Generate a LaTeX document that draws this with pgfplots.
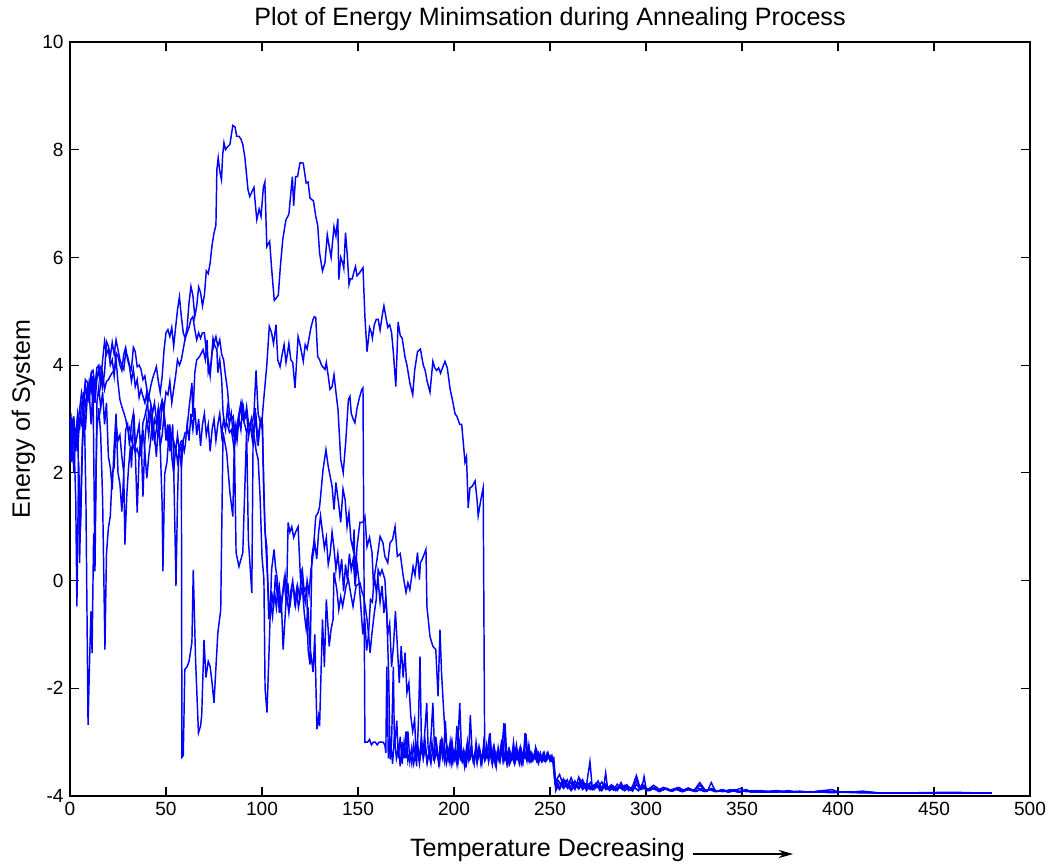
\documentclass[border=0pt]{standalone}
\usepackage{fontspec}
\setmainfont{Liberation Sans}
\usepackage{pgfplots}
\pgfplotsset{compat=1.18}
\usetikzlibrary{arrows.meta}
\definecolor{mblue}{RGB}{0,0,255}
\tikzset{ser/.style={draw=mblue, line width=0.8pt, mark=none, solid}}
\begin{document}
\begin{tikzpicture}
\useasboundingbox (-38.5pt,-36.85pt) rectangle (539.55pt,437.8pt);
\begin{axis}[
  at={(0,0)}, anchor=south west,
  scale only axis, width=528pt, height=414.7pt,
  xmin=0, xmax=500, ymin=-4, ymax=10,
  xtick={0,50,...,500}, ytick={-4,-2,...,10},
  xticklabels={0,50,100,150,200,250,300,350,400,450,500},
  yticklabels={-4,-2,0,2,4,6,8,10},
  tick align=inside, major tick length=4.7pt,
  xtick pos=both, ytick pos=both,
  axis line style={line width=0.9pt, black},
  every tick/.style={line width=0.6pt, black},
  ticklabel style={font=\fontsize{10.5}{12}\selectfont},
  clip=false,
]
% Series 1
\addplot[ser] coordinates {(0,2.6)(1,2.2)(2,2.9)(3,2.7)(4,3.1)(5,2.8)(6,3.3)(7,3.2)(8,3.6)(9,3.4)(10,3.7)(11,3.5)(12,3.8)(13,3.3)(14,3.75)(15,3.9)(16,3.6)(17,3.85)(18,3.55)(19,3.7)(20,3.73)(21,3.8)(22,3.86)(23,3.9)(24,4.1)(25,3.67)(26,3.36)(27,3.23)(28,3.12)(29,3.0)(30,2.8)(31,2.85)(32,2.62)(33,2.49)(34,2.38)(35,2.45)(36,2.3)(37,2.4)(38,2.93)(39,3.05)(40,3.23)(41,3.4)(42,3.6)(43,3.75)(44,3.86)(45,3.97)(46,3.7)(47,3.49)(48,3.79)(49,4.29)(50,4.6)(51,4.66)(52,4.53)(53,4.7)(54,4.35)(55,4.7)(56,5.03)(57,5.27)(58,4.9)(59,4.6)(60,4.5)(61,4.7)(62,5.16)(63,5.46)(64,5.3)(65,4.9)(66,5.1)(67,5.45)(68,5.35)(69,5.1)(70,5.3)(71,5.75)(72,5.7)(73,5.9)(74,6.23)(75,6.45)(76,6.6)(76.5,7.63)(77.2,7.85)(78,7.6)(78.9,7.44)(79.5,7.9)(80.2,8.13)(81,8.0)(82,8.05)(83.3,8.1)(84.8,8.45)(86,8.42)(86.8,8.25)(88,8.25)(89,8.2)(90,8.1)(91.1,7.85)(92.7,7.26)(93.6,7.13)(94.5,7.2)(95.8,7.3)(96.5,7.0)(97.3,6.7)(98.5,6.9)(99.5,6.76)(100.7,7.3)(101.5,7.4)(102.5,6.2)(104,6.3)(105,5.8)(106.4,5.2)(107.5,5.25)(108.5,5.3)(109.5,5.8)(110.8,6.33)(112,6.6)(112.5,6.7)(114,6.8)(115.8,7.5)(116.5,6.96)(117.5,7.5)(118.5,7.5)(119.8,7.76)(121.5,7.75)(122.5,7.5)(123,7.38)(124,7.4)(125,7.1)(126.8,7.05)(128,6.76)(129,6.6)(130,6.08)(131.5,5.75)(132.8,5.9)(134,6.42)(135,6.2)(136,6.0)(137.5,6.57)(138.5,6.4)(139.5,6.72)(140,5.59)(141,6.0)(142,5.9)(142.6,5.8)(143.5,6.46)(144.5,6.0)(145.3,5.5)(146,5.6)(147,5.6)(148,5.75)(148.7,5.83)(149.5,5.66)(150.5,5.7)(151.5,5.75)(152.6,5.81)(153.6,4.9)(154.7,4.25)(155.5,4.5)(156,4.7)(157,4.6)(157.5,4.5)(158.5,4.75)(159.5,4.85)(160.5,4.85)(161.5,4.65)(162.5,4.9)(163.5,5.1)(164.5,4.9)(165.5,4.7)(166.5,4.75)(167.5,4.6)(168.5,4.2)(169.7,3.6)(170.9,4.8)(172,4.55)(173,4.5)(174.5,4.15)(175.5,4.0)(177,3.67)(178.5,3.45)(179.5,3.9)(181,4.25)(182.5,4.3)(184,4.0)(185,3.9)(186,3.7)(187.5,3.5)(189,4.07)(190,3.95)(191,3.9)(192,3.95)(193,3.85)(194,3.95)(195.3,4.07)(196.5,3.95)(198,3.55)(199.5,3.3)(200.5,3.1)(201.5,3.05)(202.5,2.95)(203,2.9)(204,2.9)(205,2.5)(205.7,2.2)(206.5,2.3)(207.4,1.35)(208.3,1.72)(209.5,1.75)(211,1.85)(212,1.5)(212.6,1.2)(213.5,1.4)(214.5,1.6)(215.2,1.72)(216,-3.3)(217,-3.1)(218,-3.35)(219,-3.0)(220,-3.4)(221,-3.2)(222,-3.45)(223,-3.1)(224,-3.3)(225,-2.95)(226,-3.35)(227,-3.2)(228,-3.4)(229,-3.15)(230,-3.3)(231,-3.0)(232,-3.35)(233,-3.25)(234,-3.4)(235,-3.15)(236,-3.3)(237,-3.2)(238,-3.35)(239,-3.05)(240,-3.3)(241,-3.35)(242,-3.2)(243,-3.3)(244,-3.4)(245,-3.25)(246,-3.3)(247,-3.2)(248,-3.35)(249,-3.3)(250,-3.25)(251,-3.35)(252,-3.4)(253,-3.85)(254,-3.7)(256,-3.8)(258,-3.72)(260,-3.86)(262,-3.75)(264,-3.82)(266,-3.7)(268,-3.84)(270,-3.78)(272,-3.88)(274,-3.76)(276,-3.85)(278,-3.8)(280,-3.87)(282,-3.79)(284,-3.86)(286,-3.82)(288,-3.89)(290,-3.8)(292,-3.88)(294,-3.84)(296,-3.9)(298,-3.78)(300,-3.88)(303,-3.85)(306,-3.9)(309,-3.84)(312,-3.9)(315,-3.86)(318,-3.91)(321,-3.87)(324,-3.9)(327,-3.85)(330,-3.91)(333,-3.88)(336,-3.92)(339,-3.89)(342,-3.92)(345,-3.9)(348,-3.93)(351,-3.9)(354,-3.92)(357,-3.9)(360,-3.93)(366,-3.91)(372,-3.93)(378,-3.92)(384,-3.93)(390,-3.92)(396,-3.94)(402,-3.93)(410,-3.94)(420,-3.94)(440,-3.94)(460,-3.94)(480,-3.94)};
% Series 2
\addplot[ser] coordinates {(0,3.0)(1,2.6)(2,3.05)(3,2.4)(4,2.9)(5,3.17)(6,3.49)(7,3.3)(8,3.73)(9,3.68)(10,3.6)(11,3.82)(12,3.36)(13,3.5)(14,3.79)(15,3.92)(16,3.97)(17,3.6)(18,3.86)(19,4.44)(20,4.35)(21,4.16)(22,4.42)(23,4.2)(24,4.47)(25,4.29)(26,4.1)(27,4.0)(28,3.92)(29,4.23)(30,4.16)(31,4.0)(32,3.92)(33,4.33)(34,4.25)(35,3.97)(36,4.0)(37,3.92)(38,3.73)(39,3.8)(40,3.55)(41,3.42)(42,3.3)(43,3.1)(44,3.3)(45,3.0)(46,2.9)(47,3.2)(48,3.35)(49,3.2)(50,3.5)(51,3.45)(52,3.7)(53,3.3)(54,3.55)(55,3.8)(56,4.1)(57,4.0)(58,4.1)(59,4.3)(60,4.5)(61,4.6)(62,4.7)(63,4.85)(64,4.9)(65,4.66)(66,4.47)(67,4.6)(68,4.5)(69,4.6)(70,4.6)(71,4.25)(72,4.1)(73,3.8)(74,4.23)(75,4.4)(76,4.53)(77,4.35)(78,4.47)(79,4.2)(80,4.1)(81,3.8)(82,3.55)(83,3.12)(84,3.0)(85,3.05)(86,2.56)(87,2.9)(88,3.1)(89,3.3)(90,3.0)(91,2.9)(92,2.75)(93,2.9)(94,2.93)(95,2.95)(95.8,3.1)(96.9,3.9)(98,3.1)(99,2.95)(99.8,2.86)(100.5,3.2)(101.5,3.6)(102.5,4.0)(103.8,4.72)(105,4.6)(106,4.4)(107.3,4.75)(108.2,4.1)(109.4,3.97)(110.5,4.2)(111.5,4.38)(112.5,4.05)(113.2,4.2)(114,4.4)(115,4.1)(116,4.05)(117.2,3.58)(118.8,4.53)(120,4.35)(121.5,4.07)(122.5,4.38)(123.5,4.3)(124.5,4.5)(125.5,4.7)(126.6,4.85)(127.3,4.9)(128,4.88)(129,4.16)(130,4.1)(131,4.0)(132.8,3.92)(133.5,4.05)(134.5,3.8)(135.4,3.55)(136.5,3.6)(137.5,3.82)(138.5,3.5)(139.6,3.17)(141,2.25)(142.3,2.0)(143.7,2.62)(145,3.36)(145.8,3.42)(146.5,3.1)(147.5,3.0)(148.4,2.93)(149.5,3.2)(150.5,3.36)(151.2,3.45)(152,3.55)(152.6,3.58)(153.6,-3.0)(155,-3.0)(156,-2.95)(157,-3.05)(158,-3.0)(159,-3.0)(160,-3.05)(161,-3.0)(162,-3.0)(163,-3.0)(164,-3.05)(164.5,-3.2)(165,-1.6)(165.8,-3.3)(167,-3.0)(168,-3.4)(169,-2.9)(170,-3.3)(171,-3.1)(172,-3.45)(173,-3.0)(174,-3.3)(175,-2.8)(176,-3.35)(177,-3.2)(178,-3.4)(179,-3.05)(180,-3.3)(181,-3.15)(182,-3.4)(183,-3.1)(184,-3.3)(185,-3.0)(186,-3.35)(187,-3.2)(188,-3.4)(189,-3.1)(190,-3.3)(191,-3.2)(192,-3.35)(193,-2.95)(194,-3.3)(195,-3.15)(196,-3.4)(197,-3.2)(198,-3.3)(199,-3.0)(200,-3.35)(201,-3.2)(202,-3.4)(203,-3.1)(204,-3.3)(205,-3.25)(206,-3.4)(207,-3.0)(208,-3.3)(209,-3.15)(210,-3.35)(211,-3.2)(212,-3.4)(213,-3.1)(214,-3.3)(215,-3.2)(216,-3.35)(217,-3.25)(218,-3.3)(219,-3.2)(220,-3.4)(221,-3.15)(222,-3.35)(223,-3.25)(224,-3.3)(225,-3.1)(226,-2.65)(227,-3.3)(228,-3.2)(229,-3.4)(230,-3.25)(231,-3.35)(232,-3.2)(233,-3.3)(234,-3.15)(235,-3.4)(236,-3.2)(237,-3.3)(238,-3.25)(239,-3.35)(240,-3.2)(241,-3.3)(242,-3.25)(243,-3.35)(244,-3.2)(245,-3.3)(246,-3.25)(247,-3.35)(248,-3.3)(249,-3.25)(250,-3.3)(251,-3.35)(252,-3.3)(253,-3.8)(255,-3.88)(257,-3.7)(259,-3.85)(261,-3.66)(263,-3.84)(265,-3.76)(267,-3.88)(269,-3.8)(270.8,-3.36)(272,-3.85)(274,-3.78)(276,-3.9)(278,-3.82)(279,-3.57)(280,-3.86)(282,-3.8)(284,-3.9)(286,-3.83)(288,-3.87)(290,-3.79)(292,-3.89)(294,-3.84)(296,-3.9)(298,-3.82)(299,-3.64)(300,-3.85)(302,-3.9)(305,-3.83)(308,-3.9)(311,-3.86)(314,-3.91)(317,-3.84)(320,-3.9)(323,-3.87)(326,-3.92)(329,-3.86)(332,-3.91)(334,-3.75)(336,-3.9)(340,-3.92)(344,-3.88)(348,-3.92)(352,-3.89)(356,-3.93)(360,-3.9)(365,-3.93)(370,-3.91)(375,-3.93)(380,-3.92)(385,-3.93)(390,-3.91)(397,-3.88)(400,-3.93)(405,-3.92)(411,-3.93)(420,-3.94)(440,-3.94)(460,-3.93)(470,-3.94)(480,-3.94)};
% Series 3
\addplot[ser] coordinates {(0,2.3)(1,2.9)(2,2.0)(3,2.8)(4,2.4)(5,3.0)(6,2.9)(7,3.5)(8,3.2)(9,3.6)(10,3.3)(11,3.85)(12,3.9)(13,3.6)(14,3.95)(15,4.0)(16,3.7)(17,4.1)(18,4.44)(19,4.2)(20,4.3)(21,4.0)(22,4.1)(23,3.8)(24,4.23)(25,4.16)(26,4.0)(27,3.9)(28,4.2)(29,4.33)(30,4.1)(31,3.97)(32,3.7)(33,3.92)(34,3.6)(35,3.73)(36,3.4)(37,3.55)(38,3.42)(39,3.3)(40,3.5)(41,3.0)(42,3.2)(43,2.6)(44,3.0)(45,2.9)(46,3.2)(47,2.8)(48,3.3)(49,3.1)(50,2.6)(51,2.9)(52,2.4)(53,2.7)(54,2.6)(55,2.4)(56,2.7)(57,2.4)(58,2.5)(58.3,-3.28)(59,-3.25)(59.8,-1.65)(61,-1.6)(62,-1.5)(63.5,-1.15)(64.2,0.2)(65.4,-1.47)(66.9,-2.83)(68,-2.7)(68.6,-2.5)(69.8,-1.1)(70.8,-1.8)(72,-1.5)(73,-1.6)(74,-1.9)(75,-2.27)(77,-0.97)(78.5,-0.54)(79.7,2.75)(81.6,2.38)(83.3,1.63)(84.8,1.19)(85.6,2.62)(86.5,0.52)(88,0.26)(90,0.52)(92,2.8)(92.9,0.76)(94.7,-0.23)(95.4,2.8)(97,2.4)(98,2.25)(99,1.56)(100,0.45)(101,0.02)(101.6,-2.0)(102.6,-2.45)(103.5,-1.5)(105,0.2)(106.3,0.58)(107,0.26)(108,0.02)(109,-0.6)(110,-0.3)(111,-1.28)(112.9,-0.17)(113.6,1.08)(114.5,0.9)(115.5,1.0)(116.5,0.8)(117.5,0.9)(118.8,1.0)(120,0.07)(121,0.2)(122,-0.2)(123.3,-0.1)(124,-1.28)(125,-1.56)(126,0.45)(127,0.7)(128,1.19)(129.2,1.26)(130,1.37)(131,1.75)(131.8,2.06)(133.3,2.43)(134.5,2.12)(136.5,1.75)(137.5,1.32)(138.5,1.82)(140,1.4)(141,1.08)(142.2,1.7)(143.3,1.5)(144.3,1.0)(145.3,1.26)(146.3,0.76)(147.4,0.58)(148,0.95)(148.4,-0.04)(149.5,0.63)(151,1.08)(152.6,1.08)(153.6,1.19)(154.7,0.63)(156,0.8)(157.3,0.52)(158,-0.04)(159.9,0.39)(161.5,0.82)(163,0.7)(164,0.45)(165.5,0.33)(166.7,0.7)(168,0.76)(169.3,1.0)(170.5,0.45)(172,0.5)(173.6,0.07)(175,-0.22)(176,-0.04)(177,-0.17)(178.7,0.26)(179.7,0.1)(181,0.52)(182,0.02)(182.5,0.33)(183.5,0.4)(185.4,0.58)(185.9,-0.48)(187.5,-1.04)(189,-1.22)(190.5,-1.28)(191.7,-2.15)(192.7,-0.91)(193.5,-1.7)(194.5,-2.34)(195.5,-2.95)(196.5,-3.1)(197.5,-3.35)(198.5,-3.0)(199.5,-3.3)(200.5,-3.15)(201.5,-3.4)(202.5,-2.9)(203.5,-3.3)(204.5,-3.2)(205.5,-3.45)(206.5,-3.1)(207.5,-3.3)(208.5,-2.5)(209.5,-3.25)(210.5,-3.35)(211.5,-3.1)(212.5,-3.3)(213.5,-3.2)(214.5,-3.4)(215.5,-3.0)(216.5,-3.3)(217.5,-3.2)(218.5,-2.85)(219.5,-3.3)(220.5,-3.15)(221.5,-3.4)(222.5,-3.2)(223.5,-3.3)(224.5,-3.05)(225.5,-3.35)(226.5,-3.2)(227.5,-3.4)(228.5,-3.15)(229.5,-3.3)(230.5,-3.25)(231.5,-3.4)(232.5,-3.2)(233.5,-3.3)(234.5,-3.1)(235.5,-3.35)(236.5,-3.25)(237.5,-2.85)(238.5,-3.3)(239.5,-3.2)(240.5,-3.35)(241.5,-3.25)(242.5,-3.3)(243.5,-3.2)(244.5,-3.35)(245.5,-3.3)(246.5,-3.25)(247.5,-3.35)(248.5,-3.2)(249.5,-3.3)(250.5,-3.35)(251.5,-3.3)(252.5,-3.75)(255,-3.6)(257,-3.82)(259,-3.7)(261,-3.88)(263,-3.72)(265,-3.85)(267,-3.7)(269,-3.86)(271,-3.75)(273,-3.88)(275,-3.8)(277,-3.9)(279,-3.78)(281,-3.88)(283,-3.82)(285,-3.9)(287,-3.8)(289,-3.88)(291,-3.85)(293,-3.91)(295,-3.78)(297,-3.88)(299,-3.86)(301,-3.9)(304,-3.84)(307,-3.91)(310,-3.87)(313,-3.9)(316,-3.85)(319,-3.92)(322,-3.88)(325,-3.91)(328,-3.8)(331,-3.9)(334,-3.88)(337,-3.92)(340,-3.89)(343,-3.93)(346,-3.9)(349,-3.86)(352,-3.92)(355,-3.9)(358,-3.93)(362,-3.91)(368,-3.93)(374,-3.9)(380,-3.93)(386,-3.92)(392,-3.93)(398,-3.91)(404,-3.93)(412,-3.92)(420,-3.94)(450,-3.94)(480,-3.94)};
% Series 4
\addplot[ser] coordinates {(0,2.9)(1,2.5)(2,2.7)(3,1.5)(3.6,-0.48)(4.5,2.2)(5.5,1.0)(6.5,2.5)(7.5,3.1)(8.3,1.5)(9.4,-2.68)(10.2,-1.5)(10.9,-0.57)(11.5,-1.34)(12.3,0.85)(13,0.9)(14,2.8)(15,3.2)(16,2.7)(17,1.5)(18.2,-1.28)(19,0.5)(20,0.98)(21,1.2)(22,2.0)(23,2.1)(24,2.9)(25,2.6)(26,2.7)(27,2.3)(28,2.0)(29,2.8)(30,2.9)(31,2.5)(32,2.9)(33,3.1)(34,2.4)(35,1.26)(36,2.3)(37,2.7)(38,1.56)(39,2.6)(40,3.0)(41,2.7)(42,3.1)(43,2.9)(44,2.6)(45,2.8)(46,3.2)(47,2.5)(48,1.4)(48.4,0.17)(49.3,1.97)(50.5,2.2)(51.5,2.7)(52.5,2.5)(53.5,2.9)(54.3,1.6)(55.2,-0.1)(56,1.5)(56.7,2.43)(57.7,2.58)(58.5,2.6)(59.5,2.4)(60,2.5)(61,2.9)(62,2.6)(63,3.1)(64,2.8)(65,3.2)(66,2.7)(67,3.0)(68,2.5)(69,2.9)(70,3.1)(71,2.7)(72,2.9)(73,2.4)(74,2.8)(75,3.0)(76,2.6)(77,2.9)(78,3.1)(79,2.7)(80,3.0)(81,2.8)(82,3.2)(83,2.9)(84,3.1)(85,2.7)(86,2.9)(87,2.6)(88,3.0)(89,2.8)(90,3.3)(91,3.0)(92,3.1)(93,2.67)(94,2.9)(95,2.6)(96,2.8)(97,3.0)(98,2.5)(99,2.9)(100,3.0)(100.8,2.0)(101.5,1.0)(102.5,0.3)(104,-0.67)(105,-0.2)(106,-0.5)(107,0.1)(108,-0.3)(109,-0.1)(110,-0.5)(111,-0.2)(112,0.1)(113,-0.3)(114,-0.6)(115,-0.2)(116,0.0)(117,-0.4)(118,-0.17)(119,-0.5)(120,-0.3)(121,-0.1)(122,-0.6)(123,-0.9)(124,-0.5)(125,-1.22)(126.6,-1.7)(127.5,-1.0)(128.6,-2.76)(129.5,-2.52)(130,-2.7)(131.5,-0.72)(132.5,-1.6)(133.5,-0.35)(135,-1.22)(136,-0.9)(137,-0.72)(137.5,0.15)(139,-0.17)(140,-0.54)(141,-0.3)(142,-0.48)(143.8,-0.1)(145,0.02)(146,-0.2)(147.4,-0.48)(149,-0.1)(151,-0.04)(152,-0.2)(153,-0.3)(154.7,-0.72)(155.5,-1.0)(156.3,-1.34)(157.3,-0.97)(158.5,-0.6)(159.5,-0.35)(160.5,0.2)(161.5,0.1)(162.5,0.2)(164,0.02)(165,-0.6)(166,-1.78)(166.7,-3.32)(167.5,-3.0)(168.4,-1.6)(169,-3.1)(170.2,-2.6)(171,-3.3)(172,-2.9)(173,-3.4)(174,-3.0)(175,-3.3)(176,-2.8)(177,-3.35)(178,-3.1)(179,-3.4)(180,-3.2)(181,-3.0)(182,-3.35)(183,-2.9)(184,-3.3)(185,-3.1)(186,-3.4)(187,-3.2)(188,-2.9)(189,-2.27)(190,-3.3)(191,-3.1)(192,-3.4)(193,-3.2)(194,-3.0)(195,-3.35)(196,-3.1)(197,-3.3)(198,-3.0)(199,-3.4)(200,-3.2)(201,-3.3)(202,-3.05)(203,-2.27)(204,-3.3)(205,-3.15)(206,-3.4)(207,-3.2)(208,-3.3)(209,-3.05)(210,-3.35)(211,-3.2)(212,-3.3)(213,-3.1)(214,-3.4)(215,-3.2)(216,-3.3)(217,-3.05)(218,-3.35)(219,-3.2)(220,-3.4)(221,-3.1)(222,-3.3)(223,-3.2)(224,-3.35)(225,-3.1)(226,-3.3)(227,-3.2)(228,-3.4)(229,-3.2)(230,-3.3)(231,-3.1)(232,-3.35)(233,-3.2)(234,-3.3)(235,-3.15)(236,-3.35)(237,-2.83)(238,-3.3)(239,-3.2)(240,-3.35)(241,-3.25)(242,-3.3)(243,-3.15)(244,-3.3)(245,-3.2)(246,-3.35)(247,-3.25)(248,-3.3)(249,-3.2)(250,-3.35)(251,-3.25)(252,-3.4)(253,-3.9)(255,-3.75)(257,-3.86)(259,-3.78)(261,-3.9)(263,-3.8)(265,-3.87)(267,-3.74)(269,-3.9)(271,-3.82)(273,-3.87)(275,-3.72)(277,-3.86)(279,-3.8)(281,-3.9)(283,-3.84)(285,-3.88)(287,-3.75)(289,-3.9)(291,-3.83)(293,-3.88)(295,-3.7)(297,-3.87)(299,-3.8)(301,-3.9)(304,-3.86)(307,-3.92)(310,-3.85)(313,-3.9)(316,-3.88)(319,-3.92)(322,-3.86)(325,-3.91)(328,-3.89)(331,-3.92)(334,-3.86)(337,-3.91)(340,-3.88)(343,-3.92)(346,-3.9)(349,-3.93)(352,-3.88)(355,-3.92)(358,-3.9)(362,-3.93)(368,-3.91)(374,-3.93)(380,-3.91)(386,-3.93)(392,-3.9)(398,-3.93)(406,-3.92)(414,-3.93)(420,-3.94)(450,-3.94)(480,-3.94)};
% Series 5
\addplot[ser] coordinates {(0,2.2)(1,3.0)(2,2.8)(3,2.6)(4,3.05)(5,0.33)(6,2.0)(7,3.3)(8,2.8)(9,3.4)(10,3.5)(11,2.9)(12,3.6)(13,0.17)(14,3.3)(15,3.6)(16,3.2)(17,3.5)(18,2.9)(19,3.3)(20,2.3)(21,2.1)(22,1.69)(23,2.5)(24,3.1)(25,2.0)(26,1.8)(27,1.28)(28,2.0)(28.6,0.67)(29.6,1.6)(30.5,2.1)(31.5,2.5)(32,2.1)(33.3,3.1)(34,2.5)(35,2.7)(36,2.9)(37,2.3)(38,2.8)(39,2.4)(40,1.9)(41,2.3)(42,2.6)(43,3.0)(44,2.7)(45,2.3)(46,2.9)(47,2.5)(48,2.7)(49,3.1)(50,2.8)(51,2.6)(52,2.9)(53,2.3)(54,2.0)(55,2.5)(56,2.2)(57,2.4)(58,2.1)(59,2.6)(60,2.75)(60.8,2.75)(62,3.2)(63.5,3.67)(64,3.04)(65,3.86)(66,4.1)(67.5,4.16)(69.3,4.29)(70.5,4.1)(71.4,4.47)(72,3.86)(73.5,4.05)(74.5,4.5)(75.5,4.35)(76.5,4.29)(77,3.86)(78,4.1)(79,3.73)(79.7,3.12)(80.7,2.86)(82,2.9)(83,2.75)(84,2.8)(84.8,2.62)(85.5,2.43)(86.5,2.7)(87.5,2.93)(88.5,3.1)(89.6,3.3)(90.5,3.0)(91.5,3.1)(92,3.23)(93,2.9)(93.75,2.86)(94.5,3.0)(95.5,2.7)(96.5,3.2)(97.5,2.6)(98.5,2.8)(99.5,3.0)(100.3,2.9)(100.8,1.75)(101.6,0.9)(102.5,0.63)(103.5,-0.72)(104.5,-0.4)(105.5,-0.67)(106.5,-0.2)(107.5,-0.5)(108.5,-0.1)(109.5,-0.6)(110.5,-0.3)(111.5,0.0)(112.5,-0.35)(113.5,-0.05)(114.5,-0.5)(115.5,-0.2)(116.5,-0.15)(117.5,-0.45)(118.5,-0.1)(119.5,-0.3)(120.5,0.1)(121.5,-0.2)(122.5,-0.4)(123.5,0.0)(124.5,-0.25)(125.5,0.2)(126.5,0.45)(127.5,0.7)(128.5,0.4)(129.5,0.9)(130.5,1.2)(131.5,0.9)(132.5,0.6)(133.5,0.8)(134.5,0.3)(135.5,0.5)(136.5,0.9)(137.5,0.6)(138.5,0.2)(139.5,0.5)(140.5,0.1)(141.5,0.4)(142.5,-0.2)(143.5,0.3)(144.5,0.0)(145.5,0.5)(146.5,0.2)(147.5,0.4)(148.5,-0.1)(149.5,0.3)(150.5,0.0)(151.5,-0.5)(152.5,-1.0)(153.5,-0.7)(154.5,-1.3)(155.5,-1.0)(156.5,-0.35)(157.5,-0.4)(158.5,0.1)(159.5,-0.2)(160.5,0.0)(161.5,-0.4)(162.5,-0.1)(163.5,-0.6)(164.5,-0.3)(165.5,-1.0)(166.5,-0.8)(167.5,-1.6)(168.5,-1.2)(169.5,-0.57)(170.5,-1.22)(171.5,-1.9)(172.5,-1.22)(173.5,-1.8)(174.5,-1.34)(175.5,-2.08)(176.5,-1.9)(177.5,-2.52)(178.5,-2.8)(179.5,-2.58)(180.5,-3.45)(181.5,-2.6)(182.3,-1.41)(183,-2.95)(184,-3.2)(185,-2.7)(185.8,-2.27)(186.5,-3.1)(187.5,-3.3)(188.5,-3.0)(189.5,-3.35)(190.5,-2.9)(191.5,-3.2)(192.5,-3.4)(193.5,-3.0)(194.5,-3.3)(195.5,-2.6)(196.5,-3.3)(197.5,-3.1)(198.5,-3.4)(199.5,-3.15)(200.5,-3.3)(201.5,-2.7)(202.5,-3.3)(203.5,-3.1)(204.5,-3.35)(205.5,-3.2)(206.5,-3.4)(207.5,-3.1)(208.5,-3.3)(209.5,-3.2)(210.5,-3.4)(211.5,-3.0)(212.5,-3.3)(213.5,-3.15)(214.5,-3.35)(215.5,-3.1)(216.5,-3.3)(217.5,-3.2)(218.8,-2.83)(219.5,-3.3)(220.5,-3.1)(221.5,-3.4)(222.5,-3.2)(223.5,-3.35)(224.5,-3.15)(225.5,-3.3)(226.6,-2.65)(227.5,-3.3)(228.5,-3.15)(229.5,-3.35)(230.5,-3.2)(231.5,-3.3)(232.5,-3.05)(233.5,-3.3)(234.5,-3.2)(235.5,-3.4)(236.5,-3.25)(237.5,-3.3)(238.5,-3.15)(239.5,-3.35)(240.5,-3.2)(241.5,-3.3)(242.5,-3.1)(243.5,-3.3)(244.5,-3.25)(245.5,-3.35)(246.5,-3.2)(247.5,-3.3)(248.5,-3.25)(249.5,-3.3)(250.5,-3.3)(251.5,-3.35)(252.5,-3.7)(255,-3.85)(257,-3.68)(259,-3.82)(261,-3.74)(263,-3.88)(265,-3.65)(267,-3.84)(269,-3.76)(271,-3.88)(273,-3.79)(275,-3.84)(277,-3.74)(279,-3.88)(281,-3.82)(283,-3.89)(285,-3.78)(287,-3.86)(289,-3.8)(291,-3.9)(293,-3.82)(295,-3.62)(297,-3.86)(299,-3.84)(301,-3.88)(304,-3.8)(307,-3.89)(310,-3.86)(313,-3.91)(316,-3.87)(319,-3.9)(322,-3.85)(325,-3.9)(328,-3.75)(331,-3.9)(334,-3.87)(337,-3.91)(340,-3.9)(343,-3.92)(346,-3.88)(349,-3.92)(352,-3.9)(355,-3.93)(358,-3.91)(362,-3.92)(368,-3.9)(374,-3.93)(380,-3.92)(386,-3.93)(392,-3.91)(398,-3.93)(406,-3.93)(413,-3.91)(420,-3.94)(450,-3.94)(480,-3.94)};
% Title and labels
\node[anchor=base, font=\fontsize{13.8}{16}\selectfont] at ([yshift=8.8pt]rel axis cs:0.5,1) {Plot of Energy Minimsation during Annealing Process};
\node[anchor=base, font=\fontsize{13.8}{16}\selectfont] at ([xshift=-1.4pt,yshift=-33pt]rel axis cs:0.5,0) {Temperature Decreasing};
\node[rotate=90, anchor=base, font=\fontsize{13.8}{16}\selectfont] at ([xshift=-22pt]rel axis cs:0,0.5) {Energy of System};
\draw[black, line width=0.6pt, -{Stealth[length=8pt,width=4.5pt]}] ([yshift=-31.9pt]axis cs:324.5,-4) -- ([yshift=-31.9pt]axis cs:376.6,-4);
\end{axis}
\end{tikzpicture}
\end{document}
